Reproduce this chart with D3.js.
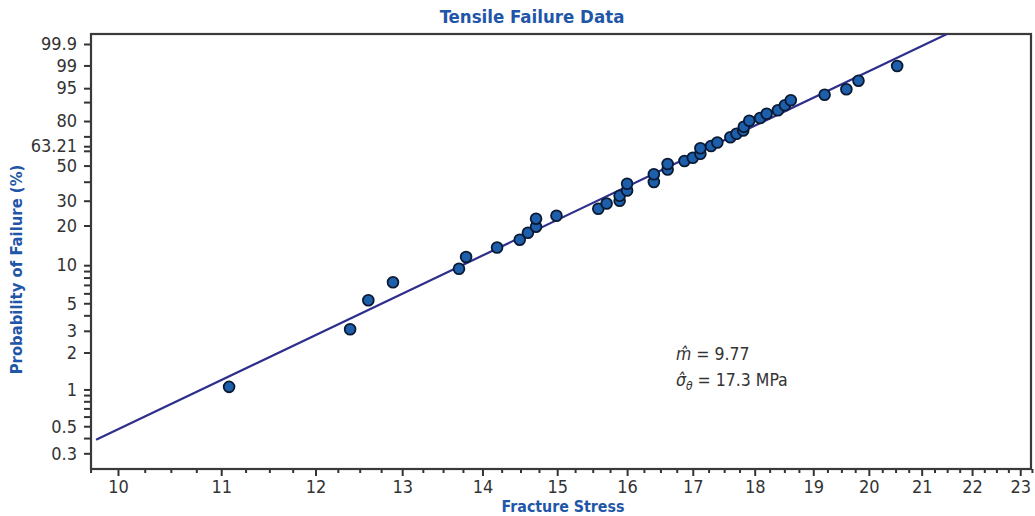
<!DOCTYPE html>
<html>
<head>
<meta charset="utf-8">
<script src="https://cdn.jsdelivr.net/npm/d3@7"></script>
<style>
  html, body { margin: 0; padding: 0; background: #fff; }
  svg { display: block; }
</style>
</head>
<body>
<svg id="chart" width="1035" height="516"></svg>
<script>
// ---------- data ----------
const stress = [11.08, 12.39, 12.60, 12.89, 13.70, 13.79, 14.19, 14.49, 14.60, 14.71,
                14.71, 14.99, 15.58, 15.70, 15.89, 15.89, 16.00, 16.00, 16.40, 16.40,
                16.61, 16.61, 16.87, 17.00, 17.12, 17.12, 17.29, 17.39, 17.60, 17.70,
                17.81, 17.82, 17.91, 18.09, 18.20, 18.39, 18.51, 18.61, 19.20, 19.59,
                19.81, 20.53];
const failurePct = [1.05, 3.09, 5.28, 7.34, 9.39, 11.58, 13.69, 15.69, 17.70, 19.61,
                    22.42, 23.56, 26.37, 28.70, 29.96, 32.44, 35.12, 38.81, 39.84, 44.50,
                    47.46, 51.04, 53.04, 55.27, 58.01, 61.75, 63.35, 65.78, 69.44, 71.82,
                    73.96, 76.44, 80.20, 81.81, 84.26, 86.08, 88.55, 90.76, 92.92, 94.70,
                    96.83, 98.95];
const weibullModulus = 9.77;      // m-hat
const characteristicStress = 17.3; // sigma-theta-hat (MPa)

const yTicks = [0.3, 0.5, 1, 2, 3, 5, 10, 20, 30, 50, 63.21, 80, 95, 99, 99.9];
const yTickLabels = ["0.3", "0.5", "1", "2", "3", "5", "10", "20", "30", "50", "63.21", "80", "95", "99", "99.9"];
const yMinorTicks = [0.4, 0.6, 0.7, 0.8, 0.9, 4, 6, 7, 8, 9, 40, 60, 70, 90];
const xTicks = [10, 11, 12, 13, 14, 15, 16, 17, 18, 19, 20, 21, 22, 23];
const xTickLabels = ["10", "11", "12", "13", "14", "15", "16", "17", "18", "19", "20", "21", "22", "23"];

// ---------- layout ----------
const svg = d3.select("#chart");
const L = 91, R = 1031, T = 34, B = 469;
const txtColor = "#333333";
const blue = "#1f56a8";
const font = "'DejaVu Sans Condensed', 'DejaVu Sans', sans-serif";

// Weibull transform of probability (%)
const weib = p => Math.log(-Math.log(1 - p / 100));

const x = d3.scaleLog().domain([9.754, 23.23]).range([L, R]);
const y = d3.scaleLinear().domain([-6.1045, 2.1217]).range([B, T]);

svg.append("defs").append("clipPath").attr("id", "clip")
  .append("rect").attr("x", L).attr("y", T).attr("width", R - L).attr("height", B - T);

// ---------- axes ----------
const xMinor = d3.range(9.75, 23.26, 0.25).filter(v => Math.abs(v - Math.round(v)) > 1e-6);

const gx = svg.append("g").attr("transform", `translate(0,${B})`);
gx.call(d3.axisBottom(x).tickValues(xMinor).tickSize(4).tickFormat(""));
gx.call(g => g.select(".domain").remove());
const gx2 = svg.append("g").attr("transform", `translate(0,${B})`);
gx2.call(d3.axisBottom(x).tickValues(xTicks).tickSize(7).tickPadding(4)
  .tickFormat((d, i) => xTickLabels[i]));
gx2.select(".domain").remove();
[gx, gx2].forEach(g => {
  g.selectAll("line").attr("stroke", txtColor).attr("stroke-width", 2);
  g.selectAll("text").attr("fill", txtColor).style("font-family", font).style("font-size", "18px");
});

const gyMinor = svg.append("g").attr("transform", `translate(${L},0)`);
gyMinor.call(d3.axisLeft(y).tickValues(yMinorTicks.map(weib)).tickSize(7).tickFormat(""));
gyMinor.select(".domain").remove();
const gy = svg.append("g").attr("transform", `translate(${L},0)`);
gy.call(d3.axisLeft(y).tickValues(yTicks.map(weib)).tickSize(7).tickPadding(7)
  .tickFormat((d, i) => yTickLabels[i]));
gy.select(".domain").remove();
[gyMinor, gy].forEach(g => {
  g.selectAll("line").attr("stroke", txtColor).attr("stroke-width", 2);
  g.selectAll("text").attr("fill", txtColor).style("font-family", font).style("font-size", "18px");
});

// frame
svg.append("rect").attr("x", L).attr("y", T).attr("width", R - L).attr("height", B - T)
  .attr("fill", "none").attr("stroke", "#3a3a3a").attr("stroke-width", 2.2);

// ---------- fitted line ----------
const fit = s => weibullModulus * Math.log(s / characteristicStress);
const lineXs = [9.8, 23.2];
svg.append("path")
  .attr("clip-path", "url(#clip)")
  .attr("d", d3.line().x(d => x(d)).y(d => y(fit(d)))(lineXs))
  .attr("fill", "none").attr("stroke", "#2e2f8c").attr("stroke-width", 2.2);

// ---------- points ----------
svg.append("g").selectAll("circle")
  .data(stress.map((s, i) => [s, failurePct[i]]))
  .join("circle")
  .attr("cx", d => x(d[0])).attr("cy", d => y(weib(d[1])))
  .attr("r", 5.4)
  .attr("fill", "#1d5fab").attr("stroke", "#0b1a33").attr("stroke-width", 1.8);

// ---------- titles ----------
svg.append("text").attr("x", 532).attr("y", 23).attr("text-anchor", "middle")
  .attr("fill", blue).style("font-family", font).style("font-weight", "bold").style("font-size", "18.5px")
  .text("Tensile Failure Data");

svg.append("text").attr("x", 563).attr("y", 512).attr("text-anchor", "middle")
  .attr("fill", blue).style("font-family", font).style("font-weight", "bold").style("font-size", "15.8px")
  .text("Fracture Stress");

svg.append("text").attr("transform", `translate(22,${(T + B) / 2 + 18}) rotate(-90)`)
  .attr("text-anchor", "middle")
  .attr("fill", blue).style("font-family", font).style("font-weight", "bold").style("font-size", "16.5px")
  .text("Probability of Failure (%)");

// ---------- annotation ----------
const ann = svg.append("g").attr("fill", txtColor).style("font-family", font).style("font-size", "17.5px");
const t1 = ann.append("text").attr("x", 676).attr("y", 360);
t1.append("tspan").style("font-style", "italic").text("m\u0302");
t1.append("tspan").text(" = 9.77");
const t2 = ann.append("text").attr("x", 676).attr("y", 386);
t2.append("tspan").style("font-style", "italic").text("\u03C3\u0302");
t2.append("tspan").style("font-style", "italic").style("font-size", "12px").attr("dy", 4).text("\u03B8");
t2.append("tspan").attr("dy", -4).text(" = 17.3 MPa");
</script>
</body>
</html>
